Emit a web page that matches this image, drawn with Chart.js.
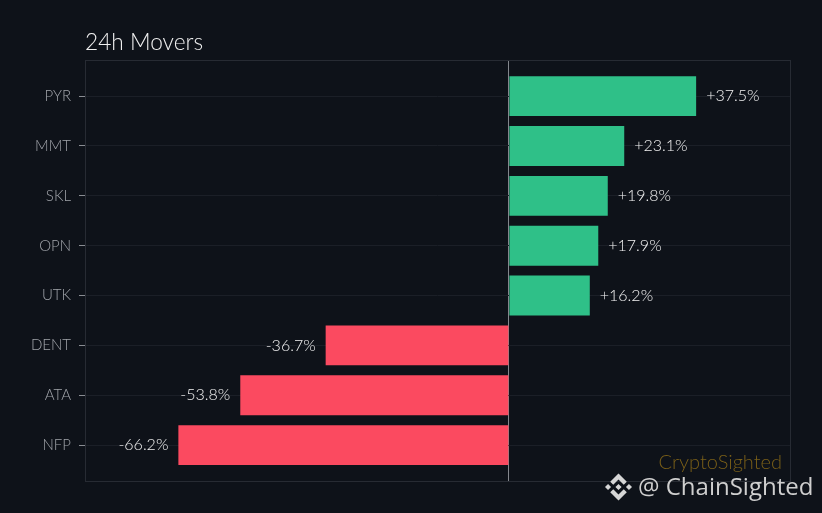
<!DOCTYPE html>
<html><head><meta charset="utf-8">
<style>html,body{margin:0;padding:0;background:#0e1219;overflow:hidden}canvas{display:block}</style>
<script src="https://cdn.jsdelivr.net/npm/chart.js@4"></script>
</head><body>
<canvas id="c" width="822" height="513"></canvas>
<script>
const categories = ["PYR","MMT","SKL","OPN","UTK","DENT","ATA","NFP"];
const changes = [37.5,23.1,19.8,17.9,16.2,-36.7,-53.8,-66.2];
const valueLabels = ["+37.5%","+23.1%","+19.8%","+17.9%","+16.2%","-36.7%","-53.8%","-66.2%"];
const GREEN="#2fc088", RED="#fb4a60";
const FONT="Lato, 'Open Sans', sans-serif";

const logoPaths=["M38.73 53.2l24.59-24.58 24.6 24.6 14.3-14.31L63.32 0 24.43 38.9z","M0 63.31l14.3-14.31 14.31 14.31-14.31 14.3z","M38.73 73.41l24.59 24.59 24.6-24.6 14.31 14.29-38.9 38.91-38.91-38.88z","M98 63.31l14.3-14.31 14.31 14.3-14.31 14.32z","M77.83 63.3L63.32 48.78 52.59 59.51l-1.24 1.23-2.54 2.54 14.51 14.5 14.51-14.47z"];

const overlay={id:"overlay",
 beforeDatasetsDraw(ch){const a=ch.chartArea,x=ch.ctx;x.save();x.strokeStyle="#272b33";x.lineWidth=1;
  x.strokeRect(Math.round(a.left)+.5,Math.round(a.top)+.5,Math.round(a.width),Math.round(a.height));x.restore();},
 afterDraw(ch){const x=ch.ctx,m=ch.getDatasetMeta(0);x.save();
  x.font="300 16px "+FONT;x.fillStyle="#f2f2f2";x.textBaseline="middle";
  m.data.forEach((b,i)=>{const pos=changes[i]>=0;x.textAlign=pos?"left":"right";
    x.fillText(valueLabels[i],b.x+(pos?10:-10),b.y);});
  x.textBaseline="alphabetic";x.textAlign="right";x.font="300 20px "+FONT;x.fillStyle="#7a5f18";
  x.fillText("CryptoSighted",782,469);
  x.textAlign="left";x.font="24px 'Open Sans', sans-serif";x.fillStyle="#cfcfcf";
  x.fillText("@ ChainSighted",638,495);
  x.translate(605,473.5);x.scale(27/126.61,27/126.61);x.fillStyle="#d6d6d6";
  logoPaths.forEach(p=>x.fill(new Path2D(p)));
  x.restore();}
};

new Chart(document.getElementById("c"),{
 type:"bar",
 data:{datasets:[{data:changes.map((v,i)=>({x:v,y:i})),
   backgroundColor:changes.map(v=>v>=0?GREEN:RED),borderWidth:0,
   categoryPercentage:1,barPercentage:0.8}]},
 plugins:[overlay],
 options:{indexAxis:"y",responsive:false,animation:false,
  layout:{padding:{left:0,right:32,top:0,bottom:32}},
  plugins:{legend:{display:false},tooltip:{enabled:false},
   title:{display:true,text:"24h Movers",align:"start",fullSize:false,color:"#f0f0f0",
     font:{family:FONT,size:22.7,weight:"300",lineHeight:1.2},padding:{top:29,bottom:4}}},
  scales:{
   x:{type:"linear",min:-84.9,max:56.3,offset:false,
     afterBuildTicks(s){s.ticks=[{value:0}];},
     ticks:{display:false},border:{display:false},
     grid:{color:"#84878d",lineWidth:1,drawTicks:false}},
   y:{type:"linear",reverse:true,min:-0.72,max:7.72,offset:false,bounds:"data",
     afterBuildTicks(s){s.ticks=categories.map((_,i)=>({value:i}));},
     afterFit(s){s.width=85;},
     ticks:{autoSkip:false,color:"#a2a5ab",padding:8,font:{family:FONT,size:15,weight:"300"},callback:v=>categories[v]},
     border:{display:false},
     grid:{offset:false,color:"#1b1f27",tickColor:"#8a8d93",tickLength:6,lineWidth:1}}
  }}
});
</script>
</body></html>
